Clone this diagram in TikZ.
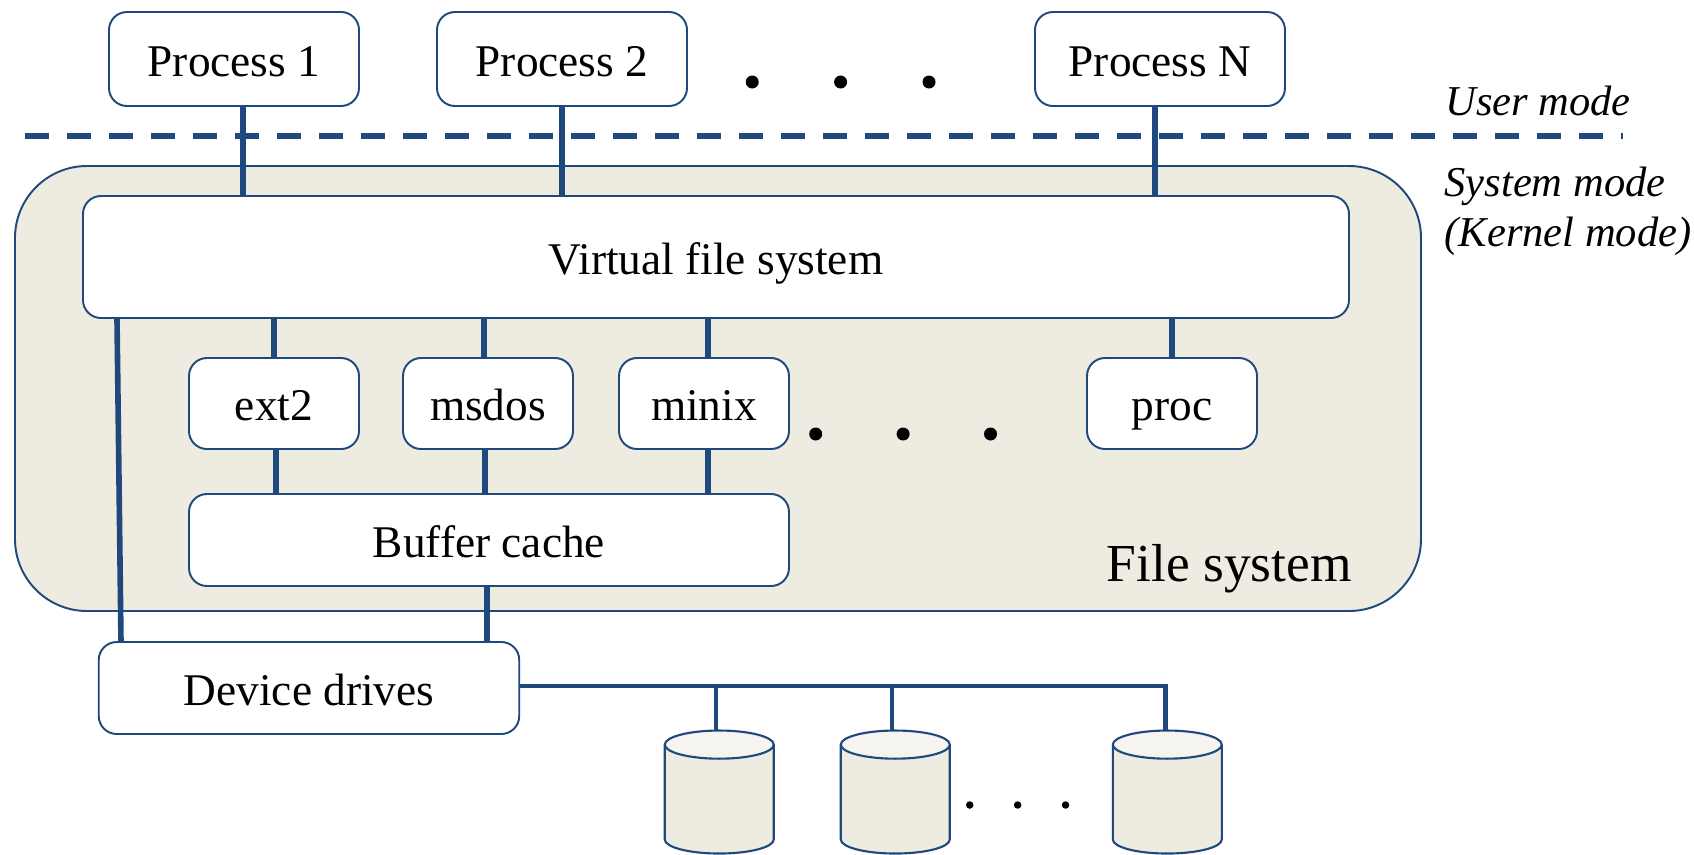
\documentclass[tikz,border=0pt]{standalone}
\usepackage{fontspec}
\setmainfont{Liberation Serif}
\usetikzlibrary{positioning,shapes.geometric}

\definecolor{linkblue}{HTML}{1F497D}
\definecolor{fstan}{HTML}{EEECE1}
\definecolor{disktop}{HTML}{F5F4EE}

\tikzset{
    box/.style={draw=linkblue, line width=.55pt, fill=white, rounded corners=.18cm, outer sep=0pt, inner sep=0pt, text height=.36cm, text depth=.02cm, font=\fontsize{12.9}{15}\selectfont},
    link/.style={draw=linkblue, line width=1.6pt},
    buslink/.style={draw=linkblue, line width=1.3pt},
    thinlink/.style={draw=linkblue, line width=1.1pt},
    dot/.style={circle, fill=black, inner sep=0pt, minimum size=.13cm},
    smalldot/.style={circle, fill=black, inner sep=0pt, minimum size=.075cm},
    modelabel/.style={font=\fontsize{12.1}{14.2}\selectfont\itshape, align=left, inner sep=0pt},
    disk/.style={cylinder, shape border rotate=90, draw=linkblue, line width=.6pt, aspect=.32, cylinder uses custom fill, cylinder body fill=fstan, cylinder end fill=disktop, minimum width=1.09cm, minimum height=1.23cm, outer sep=0pt, inner sep=.44cm}
}

\begin{document}
\begin{tikzpicture}

    \useasboundingbox (0,0) rectangle (16.94,-8.54);

    % file system background
    \node[draw=linkblue, line width=.55pt, fill=fstan, rounded corners=.72cm, minimum width=14.06cm, minimum height=4.45cm, outer sep=0pt] (fsbox) at (7.18,-3.885) {};
    \node[inner sep=0pt, font=\fontsize{15.2}{18}\selectfont] (fslabel) [above left=.17cm and .685cm of fsbox.south east] {File system};

    % processes
    \node[box, minimum width=2.5cm, minimum height=.94cm] (proc1) [above=.6cm of fsbox, xshift=-4.84cm] {Process 1};
    \node[box, minimum width=2.5cm, minimum height=.94cm] (proc2) [right=.78cm of proc1] {Process 2};
    \node[box, minimum width=2.5cm, minimum height=.94cm] (procN) [right=3.48cm of proc2] {Process N};
    \node[dot] (dotA) [right=.58cm of proc2, yshift=-.23cm] {};
    \node[dot] (dotB) [right=.74cm of dotA] {};
    \node[dot] (dotC) [right=.74cm of dotB] {};

    % mode boundary
    \coordinate (dashL) at (.25,-1.36);
    \coordinate (dashR) at (16.23,-1.36);
    \draw[link, dash pattern=on .24cm off .18cm] (dashL) -- (dashR);
    \node[modelabel] (usermode) [above=.19cm of dashR, xshift=-.85cm] {User mode};
    \node[modelabel] (sysmode) [below=.3cm of dashR, xshift=-.55cm] {System mode\\(Kernel mode)};

    % kernel layers
    \node[box, minimum width=12.66cm, minimum height=1.22cm] (vfs) [below=.3cm of fsbox.north, xshift=-.02cm] {Virtual file system};
    \node[box, minimum width=1.7cm, minimum height=.91cm] (ext2) [below=.4cm of vfs, xshift=-4.42cm] {ext2};
    \node[box, minimum width=1.7cm, minimum height=.91cm] (msdos) [right=.44cm of ext2] {msdos};
    \node[box, minimum width=1.7cm, minimum height=.91cm] (minix) [right=.46cm of msdos] {minix};
    \node[box, minimum width=1.7cm, minimum height=.91cm] (proc) [right=2.98cm of minix] {proc};
    \node[dot] (dotD) [right=.195cm of minix, yshift=-.305cm] {};
    \node[dot] (dotE) [right=.73cm of dotD] {};
    \node[dot] (dotF) [right=.73cm of dotE] {};
    \node[box, minimum width=6cm, minimum height=.92cm] (buffer) [below=.45cm of ext2, xshift=2.15cm] {Buffer cache};
    \node[box, minimum width=4.205cm, minimum height=.92cm] (device) [below=.56cm of buffer, xshift=-1.8cm] {Device drives};

    % disks
    \node[disk] (disk1) [right=1.455cm of device, yshift=-1.185cm] {};
    \node[disk] (disk2) [right=.67cm of disk1] {};
    \node[disk] (disk3) [right=1.63cm of disk2] {};
    \node[smalldot] (dotG) [right=.155cm of disk2, yshift=.015cm] {};
    \node[smalldot] (dotH) [right=.39cm of dotG] {};
    \node[smalldot] (dotI) [right=.39cm of dotH] {};

    % connections
    \draw[link] ([xshift=.09cm]proc1.south) -- ([xshift=.09cm]proc1.south |- vfs.north);
    \draw[link] (proc2.south) -- (proc2.south |- vfs.north);
    \draw[link] ([xshift=-.05cm]procN.south) -- ([xshift=-.05cm]procN.south |- vfs.north);
    \draw[link] (ext2.north) -- (ext2.north |- vfs.south);
    \draw[link] ([xshift=-.04cm]msdos.north) -- ([xshift=-.04cm]msdos.north |- vfs.south);
    \draw[link] ([xshift=.04cm]minix.north) -- ([xshift=.04cm]minix.north |- vfs.south);
    \draw[link] (proc.north) -- (proc.north |- vfs.south);
    \draw[link] ([xshift=.02cm]ext2.south) -- ([xshift=.02cm]ext2.south |- buffer.north);
    \draw[link] ([xshift=-.03cm]msdos.south) -- ([xshift=-.03cm]msdos.south |- buffer.north);
    \draw[link] ([xshift=.04cm]minix.south) -- ([xshift=.04cm]minix.south |- buffer.north);
    \draw[link] ([xshift=-.02cm]buffer.south) -- ([xshift=-.02cm]buffer.south |- device.north);
    \draw[link] ([xshift=-1.92cm]vfs.south -| device.north) -- ([xshift=-1.88cm]device.north);
    \draw[buslink] ([yshift=.02cm]device.east) -| ([xshift=-.02cm]disk3.north);
    \draw[thinlink] ([xshift=-.03cm]disk1.north |- device.east) -- ([xshift=-.03cm]disk1.north);
    \draw[thinlink] ([xshift=-.03cm]disk2.north |- device.east) -- ([xshift=-.03cm]disk2.north);

\end{tikzpicture}
\end{document}
